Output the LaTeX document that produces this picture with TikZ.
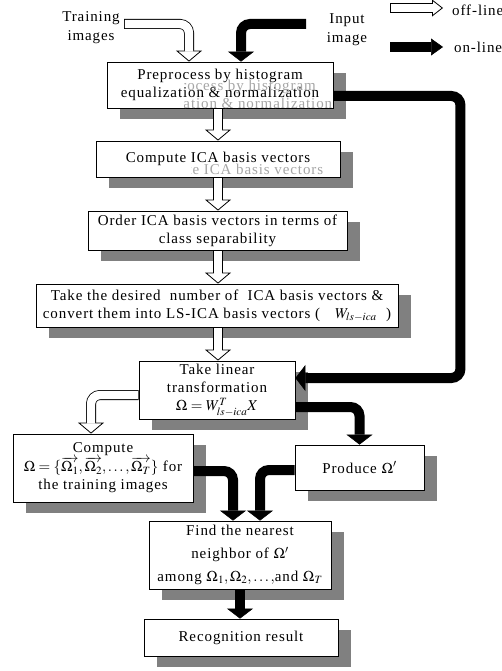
\documentclass[tikz,border=0pt]{standalone}
\usepackage{mathptmx}
\usepackage{fontspec}
\setmainfont{Liberation Serif}[LetterSpace=6]
\usetikzlibrary{calc}
\usetikzlibrary{arrows.meta}
\usetikzlibrary{shadows}
\tikzstyle{boite}     =[draw, line width=0.8pt, fill=white, inner sep=0pt, align=center, font=\fontsize{15}{18}\selectfont, drop shadow={shadow xshift=13pt, shadow yshift=-11pt, fill=black!50, opacity=1}]
\tikzstyle{texte}     =[inner sep=0pt, align=center, font=\fontsize{15}{19}\selectfont]
\tikzstyle{fantome}   =[inner sep=0pt, align=center, text=black!35, font=\fontsize{15}{18}\selectfont]
\tikzstyle{enligne}   =[line width=10pt, rounded corners=9pt, -{Triangle[width=26pt,length=10pt,line width=0.5pt]}]
%fleche blanche (hors ligne) : contour noir puis interieur blanc
\newcommand{\horsligne}[2][26pt]{%
\draw[line width=10pt, rounded corners=9pt, -{Triangle[width=#1,length=11pt,line width=0.8pt,fill=white]}] #2;
\draw[line width=8.4pt, white, rounded corners=9pt, shorten <=0.8pt, shorten >=10pt] #2;
}

\begin{document}
\begin{tikzpicture}[x=1pt,y=-1pt]

\useasboundingbox (0,0) rectangle (502,671);

%%%%%%%%%%%%%%%%%%%%%%%%
%les boites
%%%%%%%%%%%%%%%%%%%%%%%%
\node[boite, minimum width=226pt, minimum height=46pt] (pre) at (220,85) {Preprocess by histogram\\equalization \& normalization};
\node[boite, minimum width=244pt, minimum height=36pt] (cmp) at (218,159) {Compute ICA basis vectors};
\node[boite, minimum width=259pt, minimum height=39pt] (ord) at (217.5,230.5) {Order ICA basis vectors in terms of\\class separability};
\node[boite, minimum width=362pt, minimum height=43pt] (sel) at (217,305.5) {Take the desired\ \ number of\ \ ICA basis vectors \&\\convert them into LS-ICA basis vectors (\quad$W_{ls-ica}$\ \ )};
\node[boite, minimum width=156pt, minimum height=58pt] (lin) at (217,390) {Take linear\\transformation\\$\Omega = W^{T}_{ls-ica}X$};
\node[boite, minimum width=180pt, minimum height=68pt] (trn) at (103,468) {Compute\\[1pt]$\Omega=\{\overrightarrow{\Omega_1},\overrightarrow{\Omega_2},\ldots,\overrightarrow{\Omega_T}\}$ for\\the training images};
\node[boite, minimum width=129pt, minimum height=45pt] (prd) at (359.5,467.5) {Produce $\Omega'$};
\node[boite, minimum width=182pt, minimum height=68pt] (fnd) at (240,555) {Find the nearest\\[5pt]neighbor of $\Omega'$\\[5pt]among $\Omega_1,\Omega_2,\ldots,$and $\Omega_T$};
\node[boite, minimum width=194pt, minimum height=37pt] (rec) at (241,637.5) {Recognition result};

%textes d'entree et legende
\node[texte] (train) at (91,28) {Training\\images};
\node[texte] (input) at (347,30) {Input\\image};
\node[texte, anchor=west] (offtxt) at (452,10) {off-line};
\node[texte, anchor=west] (ontxt) at (454,47) {on-line};

%ombres du texte (restes grises)
\begin{scope}
\clip (184,60) rectangle (400,130);
\node[fantome] (preg) at (233,96) {Preprocess by histogram\\equalization \& normalization};
\end{scope}
\begin{scope}
\clip (191,140) rectangle (400,190);
\node[fantome] (cmpg) at (231,171) {Compute ICA basis vectors};
\end{scope}

%%%%%%%%%%%%%%%%%%%%%%%%
%les fleches
%%%%%%%%%%%%%%%%%%%%%%%%
\coordinate (tin) at (124,24); %depart images d'apprentissage
\coordinate (iin) at (306,24); %depart image d'entree
\coordinate (offa) at (390,8);
\coordinate (offb) at (443,8);
\coordinate (ona) at (390,47);
\coordinate (onb) at (443,47);

\horsligne[17pt]{(offa) -- (offb)}
\draw[line width=10pt, -{Triangle[width=17pt,length=12pt,line width=0.5pt]}] (ona) -- (onb);

\horsligne{(tin) -| ([xshift=-31pt]pre.north)}
\draw[enligne] (iin) -| ([xshift=21pt]pre.north);

\horsligne{(cmp.north |- pre.south) -- (cmp.north)}
\horsligne{(cmp.south) -- (cmp.south |- ord.north)}
\horsligne{(cmp.south |- ord.south) -- (cmp.south |- sel.north)}
\horsligne{(cmp.south |- sel.south) -- (cmp.south |- lin.north)}

\draw[enligne] ([yshift=-11pt]pre.east) -- ++(127,0) |- ([yshift=12pt]lin.east);

\horsligne{([yshift=-5pt]lin.west) -| ([xshift=-12pt]trn.north)}
\draw[enligne] ([yshift=-17pt]lin.east) -| (prd.north);

\draw[enligne] ([yshift=-3pt]trn.east) -| ([xshift=-7pt]fnd.north);
\draw[enligne] ([yshift=-2.5pt]prd.west) -| ([xshift=20pt]fnd.north);
\draw[enligne] (fnd.south) -- (fnd.south |- rec.north);

\end{tikzpicture}
\end{document}
